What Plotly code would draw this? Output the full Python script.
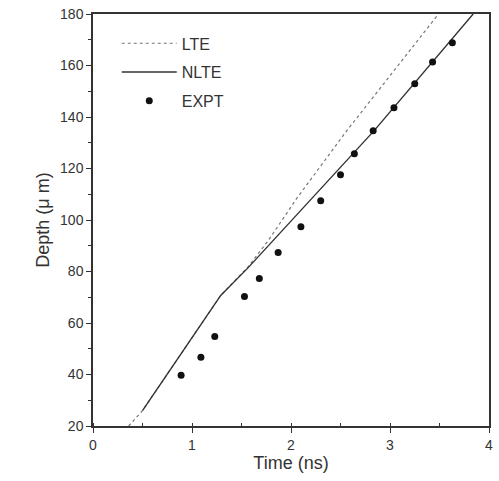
import plotly.graph_objects as go

# Data
lte_t = [0.36, 0.50, 1.29, 1.57, 1.77, 2.06, 2.56, 3.49]
lte_d = [20.0, 26.0, 70.7, 82.0, 92.0, 108.5, 134.5, 180.0]

nlte_t = [0.50, 0.87, 1.29, 1.57, 2.00, 2.84, 3.84]
nlte_d = [26.0, 46.8, 70.7, 81.6, 99.6, 134.7, 180.0]

expt_t = [0.89, 1.09, 1.23, 1.53, 1.68, 1.87, 2.10, 2.30, 2.50, 2.64, 2.83, 3.04, 3.25, 3.43, 3.63]
expt_d = [39.7, 46.7, 54.8, 70.3, 77.3, 87.4, 97.4, 107.5, 117.6, 125.7, 134.7, 143.6, 152.9, 161.4, 168.8]

x_ticks = [0, 1, 2, 3, 4]
y_ticks = [20, 40, 60, 80, 100, 120, 140, 160, 180]

ink = "#333333"
font = "Liberation Sans, Arial, sans-serif"

fig = go.Figure()
fig.add_trace(go.Scatter(x=lte_t, y=lte_d, mode="lines", name="LTE",
                         line=dict(color="#777777", width=1.2, dash="dot"),
                         legendgroup="a"))
fig.add_trace(go.Scatter(x=nlte_t, y=nlte_d, mode="lines", name="NLTE",
                         line=dict(color=ink, width=1.4),
                         legendgroup="b"))
fig.add_trace(go.Scatter(x=expt_t, y=expt_d, mode="markers", name="EXPT",
                         marker=dict(color="#111111", size=7),
                         legendgroup="c"))

fig.update_layout(
    width=499, height=481,
    margin=dict(l=93, r=6, t=13, b=55),
    paper_bgcolor="white", plot_bgcolor="white",
    font=dict(family=font, color=ink, size=14),
    showlegend=True,
    legend=dict(x=0.06, y=0.97, xanchor="left", yanchor="top",
                bgcolor="rgba(0,0,0,0)", font=dict(size=16, color=ink),
                tracegroupgap=5, itemwidth=55),
)
fig.update_xaxes(
    range=[0, 4], tickvals=x_ticks, ticktext=[str(v) for v in x_ticks],
    showgrid=False, zeroline=False,
    showline=True, linecolor=ink, linewidth=1.5, mirror=True,
    ticks="outside", ticklen=5, tickcolor=ink,
    minor=dict(dtick=0.5, ticks="inside", ticklen=3, tickcolor=ink),
    title=dict(text="Time (ns)", font=dict(size=18), standoff=0),
    tickfont=dict(size=14),
)
fig.update_yaxes(
    range=[20, 180], tickvals=y_ticks, ticktext=[str(v) for v in y_ticks],
    showgrid=False, zeroline=False,
    showline=True, linecolor=ink, linewidth=1.5, mirror=True,
    ticks="outside", ticklen=5, tickcolor=ink,
    minor=dict(dtick=10, ticks="outside", ticklen=3, tickcolor=ink),
    title=dict(text="Depth (μ m)", font=dict(size=18), standoff=6),
    tickfont=dict(size=14),
)

fig.write_html("out.html")
